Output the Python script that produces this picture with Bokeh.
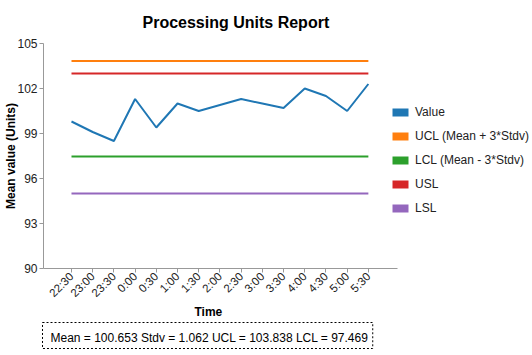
import math
from bokeh.plotting import figure
from bokeh.models import Range1d, FixedTicker, Legend, LegendItem, Title
from bokeh.embed import file_html
from bokeh.resources import INLINE

# ---- data ----
times = ["22:30", "23:00", "23:30", "0:00", "0:30", "1:00", "1:30", "2:00",
         "2:30", "3:00", "3:30", "4:00", "4:30", "5:00", "5:30"]
values = [99.8, 99.1, 98.5, 101.3, 99.4, 101.0, 100.5, 100.9,
          101.3, 101.0, 100.7, 102.0, 101.5, 100.5, 102.3]
mean = 100.653
stdv = 1.062
ucl = 103.838
lcl = 97.469
usl = 103.0
lsl = 95.0
y_ticks = [90, 93, 96, 99, 102, 105]
series_names = ["Value", "UCL (Mean + 3*Stdv)", "LCL (Mean - 3*Stdv)", "USL", "LSL"]
colors = ["#1f77b4", "#ff7f0e", "#2ca02c", "#d62728", "#9467bd"]

FONT = "Liberation Sans"
x = list(range(len(times)))
n = len(times)
series_y = [values, [ucl] * n, [lcl] * n, [usl] * n, [lsl] * n]

# frame extends to the right so the legend can sit inside it; the x axis is bounded
p = figure(width=532, height=355, output_backend="svg", toolbar_location=None,
           x_range=Range1d(-1.32, 21.74), y_range=Range1d(90, 105),
           min_border_left=43, min_border_right=0, min_border_top=43, min_border_bottom=87)
p.outline_line_color = None
p.xgrid.visible = False
p.ygrid.visible = False

# title
p.title.text = "Processing Units Report"
p.title.align = "left"
p.title.offset = 99
p.title.vertical_align = "top"
p.title.standoff = 21
p.title.text_font = FONT
p.title.text_font_size = "16px"
p.title.text_font_style = "bold"
p.title.text_color = "#000000"

# lines
for ys, c in zip(series_y, colors):
    p.line(x, ys, line_color=c, line_width=2)

# axes
p.xaxis.bounds = (-1.32, 15.37)
p.yaxis.ticker = FixedTicker(ticks=y_ticks)
p.xaxis.ticker = FixedTicker(ticks=x)
p.xaxis.major_label_overrides = {i: t for i, t in enumerate(times)}
p.xaxis.major_label_orientation = math.pi / 4
for ax in (p.xaxis, p.yaxis):
    ax.axis_line_color = "#999999"
    ax.major_tick_line_color = "#999999"
    ax.major_tick_out = 4
    ax.major_tick_in = 0
    ax.minor_tick_line_color = None
    ax.major_label_text_font = FONT
    ax.major_label_text_color = "#222222"
    ax.major_label_standoff = 2
    ax.axis_label_text_font = FONT
    ax.axis_label_text_font_size = "12px"
    ax.axis_label_text_font_style = "bold"
    ax.axis_label_text_color = "#000000"
p.yaxis.major_label_text_font_size = "12px"
p.xaxis.major_label_text_font_size = "11.5px"
p.yaxis.axis_label = "Mean value (Units)"
p.yaxis.axis_label_standoff = -4

# x axis title as a left-aligned title below the axis (centred on the bounded axis)
time_title = Title(text="Time", align="left", offset=151, standoff=-8,
                   text_font=FONT, text_font_size="12px", text_font_style="bold",
                   text_color="#000000")
p.add_layout(time_title, "below")

# legend with square swatches (zero-size quads carry the colours)
items = []
for name, ys, c in zip(series_names, series_y, colors):
    rq = p.quad(left=[x[0]], right=[x[0]], top=[ys[0]], bottom=[ys[0]],
                fill_color=c, line_color=None)
    items.append(LegendItem(label=name, renderers=[rq]))
legend = Legend(items=items, location=(347, 53), orientation="vertical",
                glyph_width=20, glyph_height=10, label_height=14, spacing=10,
                label_standoff=5, padding=0, margin=0,
                border_line_color=None, background_fill_alpha=0,
                label_text_font=FONT, label_text_font_size="12px",
                label_text_color="#222222")
p.add_layout(legend)

# stats box
stats = "Mean = %.3f Stdv = %.3f UCL = %.3f LCL = %.3f" % (mean, stdv, ucl, lcl)
stats_title = Title(text=stats, align="left", offset=-1, standoff=12,
                    text_font=FONT, text_font_size="12px", text_font_style="normal",
                    text_color="#000000", border_line_color="#000000",
                    border_line_dash="2 2", border_line_width=1,
                    background_fill_color="#ffffff", padding=(8, 4, 8, 4))
p.add_layout(stats_title, "below")

open("out.html", "w").write(file_html(p, INLINE))
